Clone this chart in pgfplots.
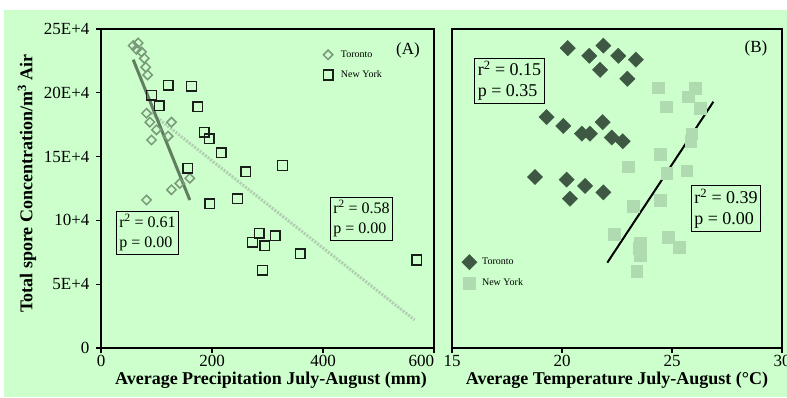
\documentclass[border=0pt]{standalone}
\usepackage{fontspec}
\setmainfont{Liberation Serif}
\usepackage{pgfplots}
\pgfplotsset{compat=1.18}
\definecolor{bg}{RGB}{204,255,204}
\definecolor{torA}{RGB}{122,152,122}
\definecolor{torAline}{RGB}{96,126,96}
\definecolor{nyline}{RGB}{176,206,176}
\definecolor{torB}{RGB}{62,88,68}
\definecolor{nyB}{RGB}{176,218,176}
\definecolor{nyA}{RGB}{25,30,25}
\pgfplotsset{
  panel/.style={
    scale only axis, anchor=south west,
    height=319pt,
    axis line style={line width=2.6pt},
    tick style={black, line width=1.2pt},
    major tick length=5pt,
    tick align=outside,
    xtick pos=bottom, ytick pos=left,
    tick label style={font=\fontsize{17}{17}\selectfont},
    yticklabel style={xshift=-3pt},
    xticklabel style={inner sep=0pt, yshift=-2pt},
    clip=false,
    legend cell align=left,
  }
}
\begin{document}
\begin{tikzpicture}[x=1pt,y=1pt]
\fill[white] (0,0) rectangle (787,397);
\fill[bg] (4,0) rectangle (787,387);
% ---------------- Panel A ----------------
\begin{axis}[panel,
  at={(101pt,49pt)}, width=333pt,
  xmin=0, xmax=600, ymin=0, ymax=25,
  xtick={0,200,400,600}, xticklabels={0,200,400,\makebox[0pt][r]{600}},
  ytick={0,5,10,15,20,25}, yticklabels={0,5E+4,10+4,15E+4,20E+4,25E+4},
  legend style={draw=none, fill=none, at={(0.658,0.945)}, anchor=north west,
    font=\fontsize{10}{12}\selectfont, row sep=8pt},
]
\addplot[only marks, mark=square, mark size=3.3pt,
  mark options={draw=torA, line width=1.5pt, rotate=45}]
coordinates {
(58,23.7) (67,23.9) (64,23.4) (73,23.2) (78,22.7) (80.5,22.0) (84,21.4)
(82,18.4) (88,17.7) (100,17.1) (91,16.3) (127,17.7) (121,16.6)
(160,13.3) (142,12.9) (127,12.4) (82,11.6)
};
\addlegendentry{\hspace{6pt}Toronto}
\addplot[only marks, mark=square, mark size=4.8pt,
  mark options={draw=nyA, line width=1.5pt}]
coordinates {
(91,19.8) (105,19.0) (121,20.6) (163,20.5) (174,18.9) (186,16.9) (195,16.4)
(217,15.3) (156,14.1) (261,13.8) (327,14.3) (196,11.3) (246,11.7)
(285,9.0) (273,8.3) (295,8.0) (314,8.8) (291,6.1) (359,7.4) (569,6.9)
};
\addlegendentry{\hspace{6pt}New York}
\addplot[forget plot, nyline, line width=3pt, dash pattern=on 2pt off 1.4pt]
coordinates {(91,18.4) (565,2.2)};
\addplot[forget plot, torAline, line width=3pt]
coordinates {(58,22.6) (160,11.6)};
\end{axis}
% ---------------- Panel B ----------------
\begin{axis}[panel,
  at={(452pt,49pt)}, width=330pt,
  xmin=15, xmax=30, ymin=0, ymax=25,
  xtick={15,20,25,30}, xticklabels={15,20,25,30},
  ytick=\empty,
  legend style={draw=none, fill=none, at={(0.02,0.30)}, anchor=north west,
    font=\fontsize{10}{12}\selectfont, row sep=7pt},
]
\addplot[only marks, mark=square*, mark size=5.4pt,
  mark options={draw=torB, fill=torB, rotate=45}]
coordinates {
(20.26,23.5) (21.24,22.9) (21.88,23.7) (22.56,22.9) (23.36,22.6) (21.73,21.8) (22.97,21.1)
(19.30,18.1) (20.06,17.4) (20.90,16.8) (21.27,16.8) (21.85,17.7) (22.26,16.5) (22.76,16.2)
(18.77,13.4) (20.21,13.2) (21.05,12.7) (21.88,12.2) (20.36,11.7)
};
\addlegendentry{\hspace{3pt}Toronto}
\addplot[only marks, mark=square*, mark size=5.8pt,
  mark options={draw=nyB, fill=nyB}]
coordinates {
(24.38,20.4) (26.05,20.35) (25.74,19.7) (24.73,18.9) (26.27,18.8) (25.90,16.8) (25.85,16.2)
(24.45,15.2) (23.01,14.2) (24.76,13.7) (25.67,13.9) (24.45,11.6) (23.24,11.1)
(22.36,8.9) (23.55,8.2) (23.50,7.8) (23.55,7.25) (23.40,6.0) (24.83,8.7) (25.33,7.9)
};
\addlegendentry{\hspace{3pt}New York}
\addplot[forget plot, black, line width=2pt]
coordinates {(22.06,6.69) (26.88,19.3)};
\end{axis}
% ---------------- Texts ----------------
\node[font=\fontsize{17}{17}\selectfont] at (408,347) {(A)};
\node[font=\fontsize{17}{17}\selectfont] at (756,349) {(B)};
\node[draw, line width=0.8pt, align=left, inner sep=3pt,
  font=\fontsize{16}{20}\selectfont] at (147.5,164.5) {r\textsuperscript{2} = 0.61\\p = 0.00};
\node[draw, line width=0.8pt, align=left, inner sep=3pt,
  font=\fontsize{16}{20}\selectfont] at (361.5,178.5) {r\textsuperscript{2} = 0.58\\p = 0.00};
\node[draw, line width=0.8pt, align=left, inner sep=3pt,
  font=\fontsize{18}{21}\selectfont] at (509.5,316) {r\textsuperscript{2} = 0.15\\p = 0.35};
\node[draw, line width=0.8pt, align=left, inner sep=3pt,
  font=\fontsize{18}{21}\selectfont] at (726,188.5) {r\textsuperscript{2} = 0.39\\p = 0.00};
\node[inner sep=0pt, font=\bfseries\fontsize{18}{18}\selectfont] at (271,17) {Average Precipitation July-August (mm)};
\node[inner sep=0pt, font=\bfseries\fontsize{18}{18}\selectfont] at (617,17) {Average Temperature July-August (°C)};
\node[rotate=90, font=\bfseries\fontsize{18}{18}\selectfont] at (27,213.5) {Total spore Concentration/m\textsuperscript{3} Air};
\pgfresetboundingbox
\useasboundingbox (0,0) rectangle (787,397);
\end{tikzpicture}
\end{document}
